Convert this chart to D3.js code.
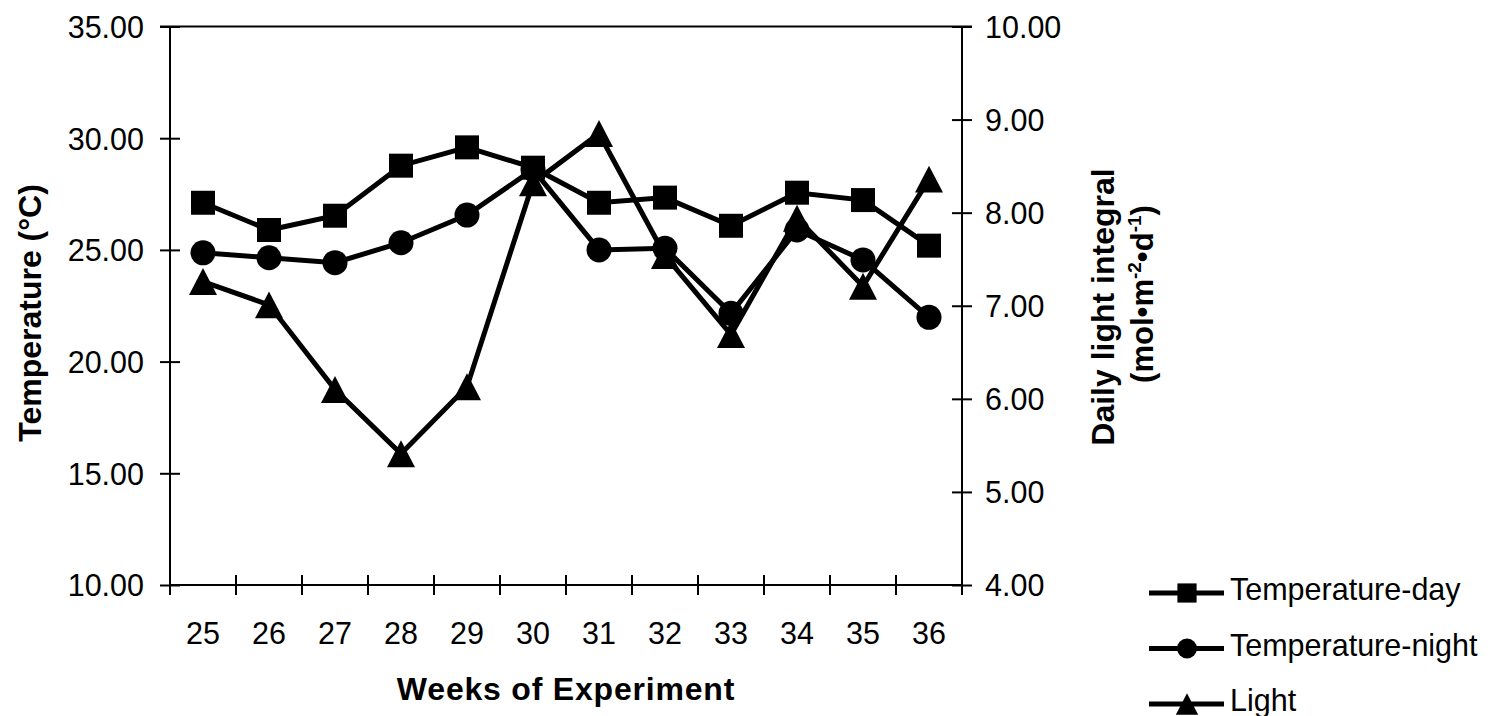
<!DOCTYPE html>
<html>
<head>
<meta charset="utf-8">
<script src="https://cdn.jsdelivr.net/npm/d3@7"></script>
<style>
  html, body { margin: 0; padding: 0; background: #fff; }
  svg { display: block; }
  text { font-family: "Liberation Sans", Arial, sans-serif; fill: #000; }
</style>
</head>
<body>
<svg id="chart" width="1499" height="716"></svg>
<script>
// Weekly greenhouse climate: day/night temperature (left axis) and daily light integral (right axis)
const weeks = [25, 26, 27, 28, 29, 30, 31, 32, 33, 34, 35, 36];
const tempDay   = [27.11, 25.89, 26.53, 28.77, 29.59, 28.68, 27.11, 27.34, 26.08, 27.56, 27.23, 25.19];
const tempNight = [24.87, 24.65, 24.43, 25.32, 26.56, 28.60, 25.00, 25.07, 22.16, 25.89, 24.55, 21.98];
const light     = [7.26, 7.01, 6.10, 5.41, 6.13, 8.32, 8.85, 7.54, 6.69, 7.94, 7.21, 8.36];

const tempTicks  = [10, 15, 20, 25, 30, 35];
const lightTicks = [4, 5, 6, 7, 8, 9, 10];
const seriesNames = ["Temperature-day", "Temperature-night", "Light"];

const svg = d3.select("#chart");
const plotLeft = 170, plotRight = 962, plotTop = 26.5, plotBottom = 585;

const x = d3.scaleBand().domain(weeks).range([plotLeft, plotRight]).paddingInner(0).paddingOuter(0);
const yT = d3.scaleLinear().domain([10, 35]).range([plotBottom, plotTop]);
const yL = d3.scaleLinear().domain([4, 10]).range([plotBottom, plotTop]);
const cx = w => x(w) + x.bandwidth() / 2;

const fmt = d3.format(".2f");

// Triangle marker centred on its bounding box
const triangleType = {
  draw(ctx, size) {
    const w = Math.sqrt(size), h = w * 0.96;
    ctx.moveTo(0, -h / 2);
    ctx.lineTo(w / 2, h / 2);
    ctx.lineTo(-w / 2, h / 2);
    ctx.closePath();
  }
};
const markerType = {
  "Temperature-day": d3.symbolSquare,
  "Temperature-night": d3.symbolCircle,
  "Light": triangleType
};
function markerSize(name, scale) {
  if (name === "Temperature-day") return Math.pow(24 * scale, 2);
  if (name === "Temperature-night") return Math.PI * Math.pow(12.5 * scale, 2);
  return Math.pow(28 * scale, 2);
}

// Frame top line
svg.append("line")
  .attr("x1", plotLeft - 10).attr("x2", plotRight + 10)
  .attr("y1", plotTop).attr("y2", plotTop)
  .attr("stroke", "#000").attr("stroke-width", 2);

// Left axis
const gL = svg.append("g").attr("transform", `translate(${plotLeft},0)`)
  .call(d3.axisLeft(yT).tickValues(tempTicks).tickFormat(fmt).tickSize(10).tickPadding(16));
// Right axis
const gR = svg.append("g").attr("transform", `translate(${plotRight},0)`)
  .call(d3.axisRight(yL).tickValues(lightTicks).tickFormat(fmt).tickSize(10).tickPadding(13));
// Bottom axis labels at band centres
const gB = svg.append("g").attr("transform", `translate(0,${plotBottom})`)
  .call(d3.axisBottom(x).tickSize(0).tickPadding(37));

[gL, gR, gB].forEach(g => {
  g.select(".domain").attr("stroke", "#000").attr("stroke-width", 2);
  g.selectAll(".tick text").attr("font-size", 30.5).attr("font-family", "Liberation Sans, Arial, sans-serif").attr("fill", "#000");
  g.selectAll(".tick line").attr("stroke", "#000").attr("stroke-width", 2);
});
gL.select(".domain").attr("d", `M0,${plotTop}V${plotBottom}`);
gR.select(".domain").attr("d", `M0,${plotTop}V${plotBottom}`);
gB.select(".domain").attr("d", `M${plotLeft},0H${plotRight}`);
gL.selectAll(".tick line").attr("x1", 10).attr("x2", -10);
gR.selectAll(".tick line").attr("x1", -10).attr("x2", 10);
gL.selectAll(".tick text").attr("dy", "0.36em");
gR.selectAll(".tick text").attr("dy", "0.36em");

// Tick marks on band boundaries of the category axis
const boundaries = weeks.map(w => x(w)).concat([x.range()[1]]);
gB.selectAll(".bound").data(boundaries).enter().append("line")
  .attr("class", "bound")
  .attr("x1", d => d).attr("x2", d => d)
  .attr("y1", -10).attr("y2", 10)
  .attr("stroke", "#000").attr("stroke-width", 2);

// Series
const series = [
  { name: "Light", values: light, y: yL },
  { name: "Temperature-night", values: tempNight, y: yT },
  { name: "Temperature-day", values: tempDay, y: yT }
];
const line = d3.line();
series.forEach(s => {
  const pts = weeks.map((w, i) => [cx(w), s.y(s.values[i])]);
  svg.append("path")
    .attr("d", line(pts))
    .attr("fill", "none").attr("stroke", "#000")
    .attr("stroke-width", 5).attr("stroke-linejoin", "miter");
  svg.append("g").selectAll("path").data(pts).enter().append("path")
    .attr("transform", d => `translate(${d[0]},${d[1]})`)
    .attr("d", d3.symbol().type(markerType[s.name]).size(markerSize(s.name, 1)))
    .attr("fill", "#000");
});

// Axis titles
svg.append("text")
  .attr("transform", `translate(${(plotLeft + plotRight) / 2},700)`)
  .attr("text-anchor", "middle").attr("font-size", 32).attr("font-weight", "bold")
  .attr("letter-spacing", 0.8)
  .text("Weeks of Experiment");

svg.append("text")
  .attr("transform", `translate(41,313) rotate(-90)`)
  .attr("text-anchor", "middle").attr("font-size", 32).attr("font-weight", "bold")
  .text("Temperature (°C)");

svg.append("text")
  .attr("transform", `translate(1114,307) rotate(-90)`)
  .attr("text-anchor", "middle").attr("font-size", 32).attr("font-weight", "bold")
  .text("Daily light integral");

const unit = svg.append("text")
  .attr("transform", `translate(1153,294) rotate(-90)`)
  .attr("text-anchor", "middle").attr("font-size", 31).attr("font-weight", "bold");
unit.append("tspan").text("(mol•m");
unit.append("tspan").attr("font-size", 19).attr("dy", -12).text("-2");
unit.append("tspan").attr("dy", 12).text("•d");
unit.append("tspan").attr("font-size", 19).attr("dy", -12).text("-1");
unit.append("tspan").attr("dy", 12).text(")");

// Legend
const legendRows = [593, 648.5, 704];
const legend = svg.append("g");
seriesNames.forEach((name, i) => {
  const ly = legendRows[i];
  legend.append("line")
    .attr("x1", 1149).attr("x2", 1224).attr("y1", ly).attr("y2", ly)
    .attr("stroke", "#000").attr("stroke-width", 5);
  legend.append("path")
    .attr("transform", `translate(1187,${ly})`)
    .attr("d", d3.symbol().type(markerType[name]).size(markerSize(name, 0.8)))
    .attr("fill", "#000");
  legend.append("text")
    .attr("x", 1230).attr("y", ly + 7)
    .attr("font-size", 30.5)
    .text(name);
});
</script>
</body>
</html>
